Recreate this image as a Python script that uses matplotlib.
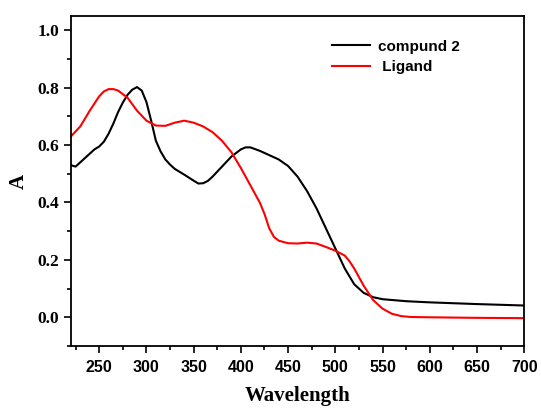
import matplotlib
matplotlib.use("Agg")
import matplotlib.pyplot as plt
from matplotlib.ticker import MultipleLocator, FormatStrFormatter

wl_black = [220, 225, 230, 235, 240, 245, 250, 255, 260, 265, 270, 275, 280, 285, 290, 295,
            300, 305, 310, 315, 320, 325, 330, 340, 350, 355, 360, 365, 370, 380, 390, 400,
            405, 410, 420, 430, 440, 450, 460, 470, 480, 490, 500, 510, 520, 530, 540, 550,
            575, 600, 650, 700]
a_black = [0.53, 0.525, 0.54, 0.555, 0.57, 0.585, 0.595, 0.612, 0.64, 0.675, 0.715, 0.748, 0.775, 0.793, 0.802, 0.79,
           0.75, 0.685, 0.615, 0.578, 0.55, 0.532, 0.517, 0.497, 0.476, 0.466, 0.467, 0.475, 0.49, 0.525, 0.56, 0.585,
           0.592, 0.592, 0.58, 0.565, 0.55, 0.527, 0.49, 0.44, 0.38, 0.31, 0.24, 0.17, 0.115, 0.085, 0.07, 0.063,
           0.056, 0.052, 0.046, 0.041]

wl_red = [220, 230, 240, 250, 255, 260, 265, 270, 280, 290, 300, 310, 320, 330, 340, 350, 360, 370,
          380, 390, 400, 410, 420, 425, 430, 435, 440, 450, 460, 470, 480, 490, 500, 510, 515, 520,
          530, 540, 550, 560, 570, 580, 600, 650, 700]
a_red = [0.63, 0.665, 0.72, 0.77, 0.787, 0.795, 0.795, 0.79, 0.765, 0.72, 0.685, 0.668, 0.667, 0.678, 0.685, 0.678, 0.665, 0.645,
         0.615, 0.575, 0.52, 0.46, 0.40, 0.36, 0.31, 0.28, 0.267, 0.258, 0.257, 0.26, 0.257, 0.245, 0.232, 0.215, 0.195, 0.17,
         0.11, 0.06, 0.03, 0.012, 0.004, 0.001, 0.0, -0.002, -0.003]

fig = plt.figure(figsize=(5.41, 4.08), dpi=100)
ax = fig.add_axes([0.131, 0.152, 0.838, 0.809])
ax.plot(wl_black, a_black, color="black", lw=1.5, label="compund 2")
ax.plot(wl_red, a_red, color="red", lw=1.5, label=" Ligand")
ax.set_xlim(220, 700)
ax.set_ylim(-0.1, 1.05)
ax.xaxis.set_major_locator(MultipleLocator(50))
ax.xaxis.set_minor_locator(MultipleLocator(25))
ax.yaxis.set_major_locator(MultipleLocator(0.2))
ax.yaxis.set_minor_locator(MultipleLocator(0.1))
ax.yaxis.set_major_formatter(FormatStrFormatter("%.1f"))
ax.tick_params(which="both", direction="out", width=1.2)
ax.tick_params(which="major", length=5)
ax.tick_params(which="minor", length=3)
ax.tick_params(axis="x", pad=5)
for s in ax.spines.values():
    s.set_linewidth(1.3)
for lab in ax.get_xticklabels():
    lab.set_fontfamily("Liberation Sans"); lab.set_fontweight("bold"); lab.set_fontsize(11.5)
for lab in ax.get_yticklabels():
    lab.set_fontfamily("Liberation Serif"); lab.set_fontweight("bold"); lab.set_fontsize(12.5)
ax.set_xlabel("Wavelength", family="Liberation Serif", weight="bold", size=15, labelpad=8)
ax.set_ylabel("A", family="Liberation Serif", weight="bold", size=15, labelpad=6)
ax.legend(loc="upper left", bbox_to_anchor=(0.545, 0.97), frameon=False, handlelength=2.5,
          handletextpad=0.5, prop=dict(family="Liberation Sans", weight="bold", size=11),
          labelspacing=0.45)
fig.savefig("out.png", dpi=100)
